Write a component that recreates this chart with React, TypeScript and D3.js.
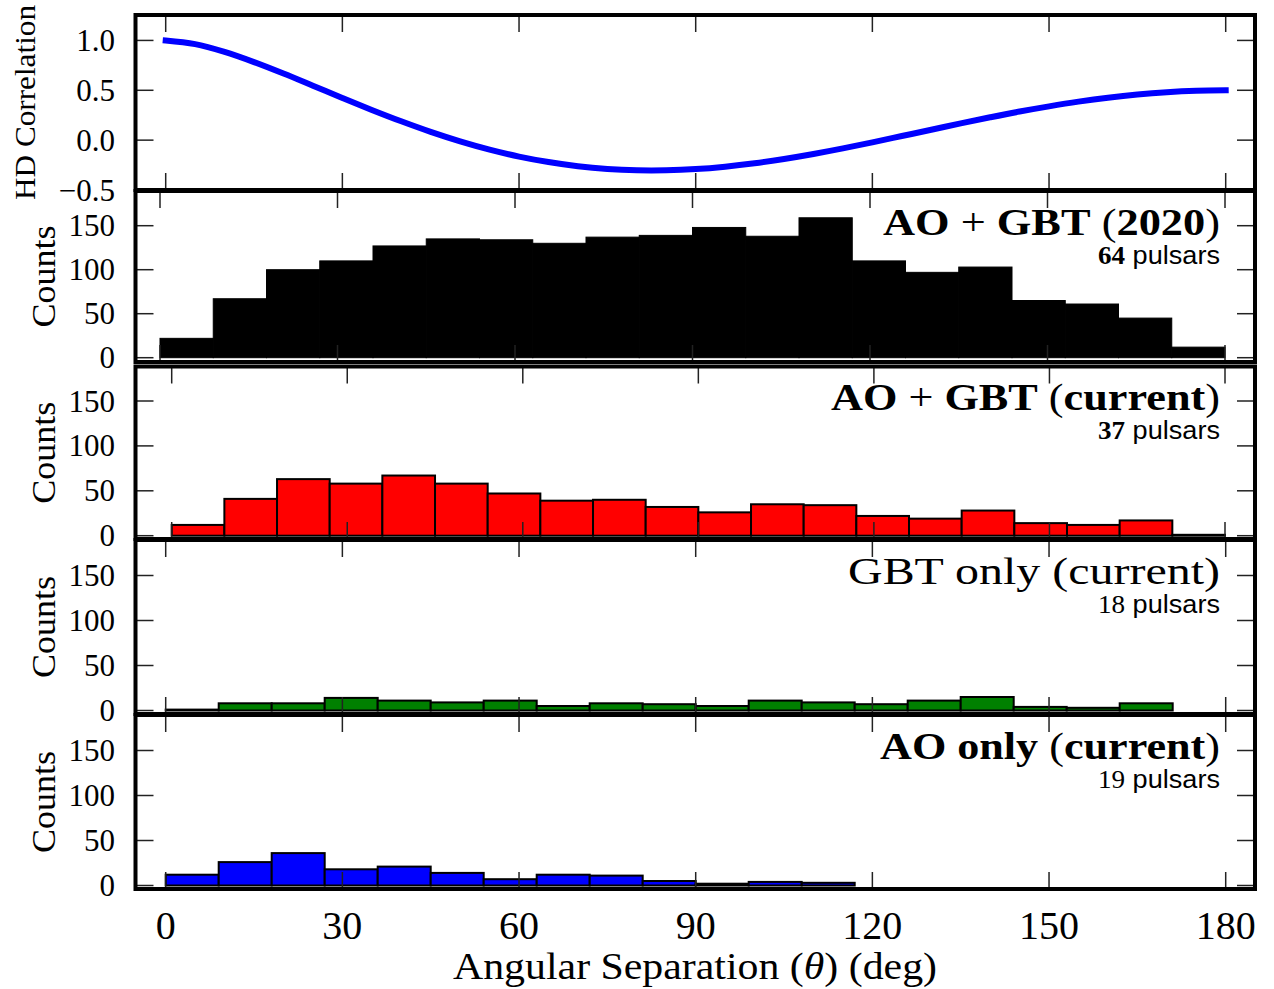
import React from 'react';
import * as d3 from 'd3';

// ---------------- data ----------------
const binStarts = [0, 9, 18, 27, 36, 45, 54, 63, 72, 81, 90, 99, 108, 117, 126, 135, 144, 153, 162, 171];
const binWidth = 9;
const counts2020 = [22, 67, 100, 110, 127, 135, 134, 130, 137, 139, 148, 138, 159, 110, 97, 103, 65, 61, 45, 12];
const countsAOGBT = [12, 41, 63, 58, 67, 58, 47, 39, 40, 32, 26, 35, 34, 22, 19, 28, 14, 12, 17, 1];
const countsGBT = [1, 8, 8, 14, 11, 9, 11, 5, 8, 7, 5, 11, 9, 7, 11, 15, 4, 3, 8, 0];
const countsAO = [12, 26, 36, 18, 21, 14, 7, 12, 11, 5, 2, 4, 3, 0, 0, 0, 0, 0, 0, 0];

const hdAngles = [0, 5, 10, 15, 20, 25, 30, 35, 40, 45, 50, 55, 60, 65, 70, 75, 80, 85, 90,
  95, 100, 105, 110, 115, 120, 125, 130, 135, 140, 145, 150, 155, 160, 165, 170, 175, 180];
const hdCorr = [1.0, 0.963, 0.885, 0.783, 0.668, 0.546, 0.423, 0.303, 0.189, 0.083, -0.012, -0.095,
  -0.165, -0.220, -0.262, -0.289, -0.302, -0.302, -0.290, -0.266, -0.232, -0.189, -0.139, -0.083,
  -0.022, 0.041, 0.104, 0.168, 0.229, 0.287, 0.339, 0.386, 0.426, 0.458, 0.481, 0.495, 0.5];

const xTicks = [0, 30, 60, 90, 120, 150, 180];
const countTicks = [0, 50, 100, 150];
const hdTicks = [-0.5, 0.0, 0.5, 1.0];

// ---------------- layout ----------------
const W = 1274;
const H = 989;
const FRAME_L = 135.5;
const FRAME_R = 1255;
const SERIF = '"Liberation Serif", "DejaVu Serif", serif';
const SANS = '"Liberation Sans", Arial, sans-serif';

const hdLayout = { top: 15, bottom: 190, x0: 165.7, x180: 1225.7 };

type Seg = [string, boolean];
const histLayouts = [
  {
    counts: counts2020, fill: '#000000', edge: 1,
    top: 191, bottom: 362, x0: 160, x180: 1225, y0: 357.7, y150: 225.7,
    title: [['AO', true], [' + ', false], ['GBT', true], [' (', false], ['2020', true], [')', false]] as Seg[],
    titleW: 337, n: '64', nBold: true,
  },
  {
    counts: countsAOGBT, fill: '#ff0000', edge: 2,
    top: 366.5, bottom: 539, x0: 171.7, x180: 1225, y0: 535.7, y150: 401,
    title: [['AO', true], [' + ', false], ['GBT', true], [' (', false], ['current', true], [')', false]] as Seg[],
    titleW: 389, n: '37', nBold: true,
  },
  {
    counts: countsGBT, fill: '#008000', edge: 2,
    top: 540, bottom: 714, x0: 165.7, x180: 1225.7, y0: 710.5, y150: 575.5,
    title: [['GBT only', false], [' (', false], ['current', false], [')', false]] as Seg[],
    titleW: 372, n: '18', nBold: false,
  },
  {
    counts: countsAO, fill: '#0000ff', edge: 2,
    top: 715, bottom: 889, x0: 165.7, x180: 1225.7, y0: 885.5, y150: 750.5,
    title: [['AO only', true], [' (', false], ['current', true], [')', false]] as Seg[],
    titleW: 340, n: '19', nBold: false,
  },
];

const TICK_X = 17;
const TICK_Y = 18;
const tickStroke = '#222';

function XTickMarks({ xs, top, bottom }: { xs: d3.ScaleLinear<number, number>; top: number; bottom: number }) {
  return (
    <g stroke={tickStroke} strokeWidth={1.5}>
      {xTicks.map((t) => (
        <g key={t}>
          <line x1={xs(t)} x2={xs(t)} y1={top} y2={top + TICK_X} />
          <line x1={xs(t)} x2={xs(t)} y1={bottom} y2={bottom - TICK_X} />
        </g>
      ))}
    </g>
  );
}

export default function App() {
  // HD panel
  const hdX = d3.scaleLinear().domain([0, 180]).range([hdLayout.x0, hdLayout.x180]);
  const hdY = d3.scaleLinear().domain([-0.5, 1.25]).range([hdLayout.bottom, hdLayout.top + 0.5]);
  const hdLine = d3
    .line<number>()
    .x((_, i) => hdX(hdAngles[i]))
    .y((d) => hdY(d))
    .curve(d3.curveCatmullRom);

  const bottomX = d3.scaleLinear().domain([0, 180]).range([165.7, 1225.7]);

  return (
    <svg
      width={W}
      height={H}
      viewBox={`0 0 ${W} ${H}`}
      style={{ position: 'absolute', left: 0, top: 0, background: '#fff' }}
    >
      <rect x={0} y={0} width={W} height={H} fill="#fff" />

      {/* HD correlation panel */}
      <g>
        <path d={hdLine(hdCorr) || ''} fill="none" stroke="#0000ff" strokeWidth={6} strokeLinecap="square" />
        <XTickMarks xs={hdX} top={hdLayout.top} bottom={hdLayout.bottom} />
        <g stroke={tickStroke} strokeWidth={1.5}>
          {hdTicks.map((t) => (
            <g key={t}>
              <line x1={FRAME_L} x2={FRAME_L + TICK_Y} y1={hdY(t)} y2={hdY(t)} />
              <line x1={FRAME_R} x2={FRAME_R - TICK_Y} y1={hdY(t)} y2={hdY(t)} />
            </g>
          ))}
        </g>
        {hdTicks.map((t) => (
          <text
            key={t}
            x={115}
            y={hdY(t) + 10.5}
            textAnchor="end"
            fontFamily={SERIF}
            fontSize={31}
            fill="#000"
          >
            {t.toFixed(1).replace('-', '\u2212')}
          </text>
        ))}
        <rect
          x={FRAME_L}
          y={hdLayout.top}
          width={FRAME_R - FRAME_L}
          height={hdLayout.bottom - hdLayout.top}
          fill="none"
          stroke="#000"
          strokeWidth={4}
        />
        <text
          transform={`translate(35, ${(hdLayout.top + hdLayout.bottom) / 2}) rotate(-90)`}
          textAnchor="middle"
          fontFamily={SERIF}
          fontSize={29}
          textLength={195}
          lengthAdjust="spacingAndGlyphs"
        >
          HD Correlation
        </text>
      </g>

      {/* histogram panels */}
      {histLayouts.map((p, pi) => {
        const xs = d3.scaleLinear().domain([0, 180]).range([p.x0, p.x180]);
        const ys = d3.scaleLinear().domain([0, 150]).range([p.y0, p.y150]);
        return (
          <g key={pi}>
            <g>
              {p.counts.map((c, i) => {
                const xa = xs(binStarts[i]);
                const xb = xs(binStarts[i] + binWidth);
                return (
                  <rect
                    key={i}
                    x={xa}
                    y={ys(c)}
                    width={xb - xa}
                    height={ys(0) - ys(c)}
                    fill={p.fill}
                    stroke="#000"
                    strokeWidth={p.edge}
                  />
                );
              })}
            </g>
            <XTickMarks xs={xs} top={p.top} bottom={p.bottom} />
            <g stroke={tickStroke} strokeWidth={1.5}>
              {countTicks.map((t) => (
                <g key={t}>
                  <line x1={FRAME_L} x2={FRAME_L + TICK_Y} y1={ys(t)} y2={ys(t)} />
                  <line x1={FRAME_R} x2={FRAME_R - TICK_Y} y1={ys(t)} y2={ys(t)} />
                </g>
              ))}
            </g>
            {countTicks.map((t) => (
              <text
                key={t}
                x={115}
                y={ys(t) + 10.5}
                textAnchor="end"
                fontFamily={SERIF}
                fontSize={31}
                fill="#000"
              >
                {String(t)}
              </text>
            ))}
            <rect
              x={FRAME_L}
              y={p.top}
              width={FRAME_R - FRAME_L}
              height={p.bottom - p.top}
              fill="none"
              stroke="#000"
              strokeWidth={4}
            />
            <text
              transform={`translate(55, ${(p.top + p.bottom) / 2}) rotate(-90)`}
              textAnchor="middle"
              fontFamily={SERIF}
              fontSize={34}
              textLength={102}
              lengthAdjust="spacingAndGlyphs"
            >
              Counts
            </text>
            <text
              x={1220}
              y={p.top + 43.5}
              textAnchor="end"
              fontFamily={SERIF}
              fontSize={37}
              textLength={p.titleW}
              lengthAdjust="spacingAndGlyphs"
            >
              {p.title.map((s, si) => (
                <tspan key={si} fontWeight={s[1] ? 'bold' : 'normal'}>
                  {s[0]}
                </tspan>
              ))}
            </text>
            <text
              x={1220}
              y={p.top + 72.5}
              textAnchor="end"
              fontSize={26}
              textLength={122}
              lengthAdjust="spacingAndGlyphs"
            >
              <tspan fontFamily={SERIF} fontWeight={p.nBold ? 'bold' : 'normal'}>
                {p.n}
              </tspan>
              <tspan fontFamily={SANS}> pulsars</tspan>
            </text>
          </g>
        );
      })}

      {/* bottom x tick labels */}
      {xTicks.map((t) => (
        <text key={t} x={bottomX(t)} y={939} textAnchor="middle" fontFamily={SERIF} fontSize={40}>
          {String(t)}
        </text>
      ))}
      <text
        x={695}
        y={979}
        textAnchor="middle"
        fontFamily={SERIF}
        fontSize={38}
        textLength={484}
        lengthAdjust="spacingAndGlyphs"
      >
        Angular Separation (<tspan fontStyle="italic">θ</tspan>) (deg)
      </text>
    </svg>
  );
}
